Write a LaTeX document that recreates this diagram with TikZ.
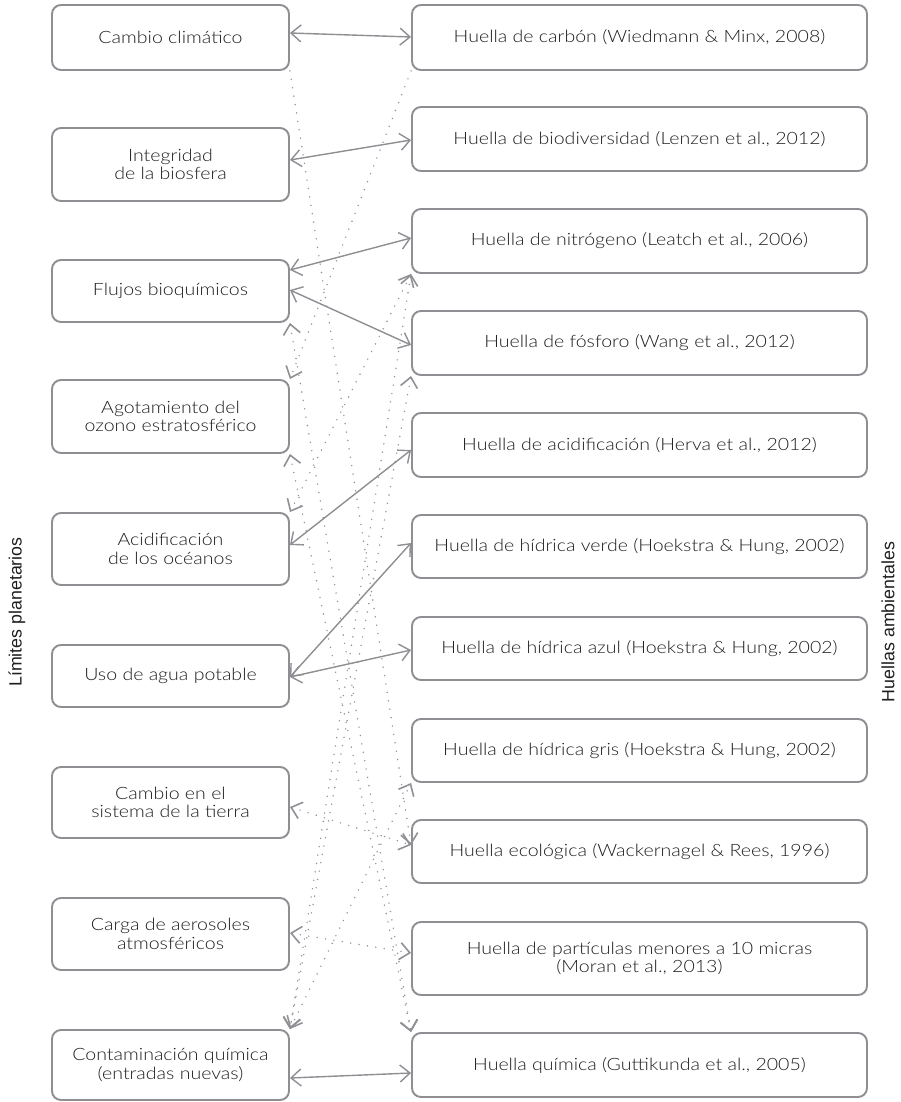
\documentclass[tikz,border=0pt]{standalone}
\usepackage{fontspec}
\setmainfont{Lato Light}[FakeStretch=1.15]
\newfontfamily\sidefont{Liberation Sans}
\usetikzlibrary{arrows.meta}
\definecolor{edgegray}{HTML}{8E8E93}
\definecolor{linkgray}{HTML}{8E8E93}
\definecolor{dotgray}{HTML}{909095}
\definecolor{txt}{HTML}{1E1E1E}
\begin{document}
\begin{tikzpicture}[x=1pt,y=-1pt,
  box/.style={draw=edgegray, line width=1.9pt, rounded corners=9pt, align=center,
    text=txt, font=\fontsize{17}{18.5}\selectfont, inner sep=0pt},
  lbox/.style={box, minimum width=237pt},
  rbox/.style={box, minimum width=455pt},
  tip/.tip={Straight Barb[length=10pt,width=17pt]},
  link/.style={draw=linkgray, line width=1.4pt, tip-tip},
  dots/.style={draw=dotgray, line width=1.6pt, line cap=round, dash pattern=on 0pt off 8.5pt},
  side/.style={rotate=90, text=txt, font=\sidefont\fontsize{17.8}{20}\selectfont}
]
\useasboundingbox (0,0) rectangle (901,1102);

% planetary boundaries (left column)
\node[lbox, minimum height=65pt] (L1) at (170.5,37.5)  {Cambio climático};
\node[lbox, minimum height=73pt] (L2) at (170.5,164.5) {Integridad\\de la biosfera};
\node[lbox, minimum height=62pt] (L3) at (170.5,291)   {Flujos bioquímicos};
\node[lbox, minimum height=73pt] (L4) at (170.5,416.5) {Agotamiento del\\ozono estratosférico};
\node[lbox, minimum height=72pt] (L5) at (170.5,549)   {Acidificación\\de los océanos};
\node[lbox, minimum height=62pt] (L6) at (170.5,676)   {Uso de agua potable};
\node[lbox, minimum height=71pt] (L7) at (170.5,802.5) {Cambio en el\\sistema de la tierra};
\node[lbox, minimum height=72pt] (L8) at (170.5,934)   {Carga de aerosoles\\atmosféricos};
\node[lbox, minimum height=70pt] (L9) at (170.5,1065)  {Contaminación química\\(entradas nuevas)};

% environmental footprints (right column)
\node[rbox, minimum height=65pt] (R1)  at (639.5,37.5)  {Huella de carbón (Wiedmann \& Minx, 2008)};
\node[rbox, minimum height=64pt] (R2)  at (639.5,139)   {Huella de biodiversidad (Lenzen et al., 2012)};
\node[rbox, minimum height=64pt] (R3)  at (639.5,241)   {Huella de nitrógeno (Leatch et al., 2006)};
\node[rbox, minimum height=64pt] (R4)  at (639.5,343)   {Huella de fósforo (Wang et al., 2012)};
\node[rbox, minimum height=64pt] (R5)  at (639.5,445)   {Huella de acidificación (Herva et al., 2012)};
\node[rbox, minimum height=63pt] (R6)  at (639.5,546.5) {Huella de hídrica verde (Hoekstra \& Hung, 2002)};
\node[rbox, minimum height=63pt] (R7)  at (639.5,648.5) {Huella de hídrica azul (Hoekstra \& Hung, 2002)};
\node[rbox, minimum height=63pt] (R8)  at (639.5,750.5) {Huella de hídrica gris (Hoekstra \& Hung, 2002)};
\node[rbox, minimum height=63pt] (R9)  at (639.5,851.5) {Huella ecológica (Wackernagel \& Rees, 1996)};
\node[rbox, minimum height=73pt] (R10) at (639.5,958.5) {Huella de partículas menores a 10 micras\\(Moran et al., 2013)};
\node[rbox, minimum height=64pt] (R11) at (639.5,1065)  {Huella química (Guttikunda et al., 2005)};

% column titles
\node[side] (lp) at (17,612) {Límites planetarios};
\node[side] (ha) at (888,622) {Huellas ambientales};

% direct links
\draw[link] ([yshift=4.5pt]L1.east) -- ([yshift=0.5pt]R1.west);
\draw[link] ([yshift=4.5pt]L2.east) -- ([yshift=-1pt]R2.west);
\draw[link] ([yshift=21pt]L3.east)  -- ([yshift=3pt]R3.west);
\draw[link] ([yshift=1pt]L3.east)   -- ([yshift=-2pt]R4.west);
\draw[link] ([yshift=4pt]L5.east)   -- ([yshift=-5pt]R5.west);
\draw[link] ([yshift=-1pt]L6.east)  -- ([yshift=3.5pt]R6.west);
\draw[link] ([yshift=-1pt]L6.east)  -- ([yshift=-1.5pt]R7.west);
\draw[link] ([yshift=-13pt]L9.east) -- ([yshift=-8pt]R11.west);

% indirect links
\draw[dots, -tip]    (L1.south east) -- ([yshift=6.5pt]R9.west);
\draw[dots, -tip]    (R1.south west) -- (L4.north east);
\draw[dots, tip-tip] (R3.south west) -- (L5.north east);
\draw[dots, tip-tip] (R3.south west) -- (L9.north east);
\draw[dots, tip-tip] (R4.south west) -- (L9.north east);
\draw[dots, tip-tip] (L3.south east) -- (R11.north west);
\draw[dots, tip-tip] (L4.south east) -- (R11.north west);
\draw[dots, tip-tip] ([yshift=-4.5pt]L7.east) -- ([yshift=6.5pt]R9.west);
\draw[dots, tip-tip] ([yshift=1pt]L8.east) -- ([yshift=5.5pt]R10.west);
\draw[dots, tip-tip] (L9.north east) -- (R8.south west);
\end{tikzpicture}
\end{document}
